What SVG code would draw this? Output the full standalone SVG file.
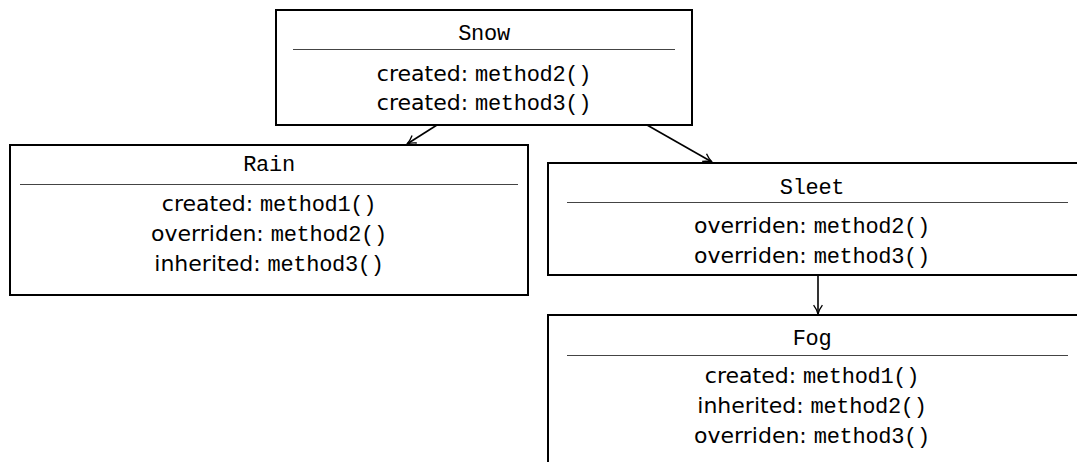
<svg xmlns="http://www.w3.org/2000/svg" width="1077" height="462" viewBox="0 0 1077 462">
<defs>
<style>
.box{fill:#fff;stroke:#000;stroke-width:2}
.sep{stroke:#444;stroke-width:1}
.t{font-family:"DejaVu Sans","Liberation Sans",sans-serif;font-size:22px;fill:#000;text-anchor:middle}
.m{font-family:"Liberation Mono","DejaVu Sans Mono",monospace;font-size:22px;letter-spacing:-0.3px}
.edge{stroke:#000;stroke-width:1.6;fill:none;marker-end:url(#ah)}
</style>
<marker id="ah" viewBox="0 0 10 10" refX="9" refY="5" markerWidth="11" markerHeight="11" orient="auto" markerUnits="userSpaceOnUse">
<path d="M1,1 Q5,4 9,5 Q5,6 1,9" fill="none" stroke="#000" stroke-width="1.2"/>
</marker>
</defs>
<rect width="1077" height="462" fill="#fff"/>
<g id="edges">
<line class="edge" x1="437" y1="125" x2="407" y2="144"/>
<line class="edge" x1="647" y1="125" x2="712" y2="162"/>
<line class="edge" x1="818" y1="275" x2="818" y2="314"/>
</g>
<g id="Snow">
<rect class="box" x="276" y="10" width="416" height="115"/>
<line class="sep" x1="293" y1="49.5" x2="675" y2="49.5"/>
<text class="t" x="484" y="40"><tspan class="m">Snow</tspan></text>
<text class="t" x="484" y="81">created: <tspan class="m">method2()</tspan></text>
<text class="t" x="484" y="110">created: <tspan class="m">method3()</tspan></text>
</g>
<g id="Rain">
<rect class="box" x="10" y="145" width="518" height="150"/>
<line class="sep" x1="20" y1="184.5" x2="518" y2="184.5"/>
<text class="t" x="269" y="171"><tspan class="m">Rain</tspan></text>
<text class="t" x="269" y="211">created: <tspan class="m">method1()</tspan></text>
<text class="t" x="269" y="241">overriden: <tspan class="m">method2()</tspan></text>
<text class="t" x="269" y="271">inherited: <tspan class="m">method3()</tspan></text>
</g>
<g id="Sleet">
<rect class="box" x="548" y="163" width="540" height="112"/>
<line class="sep" x1="567" y1="202.5" x2="1068" y2="202.5"/>
<text class="t" x="812" y="194"><tspan class="m">Sleet</tspan></text>
<text class="t" x="812" y="233">overriden: <tspan class="m">method2()</tspan></text>
<text class="t" x="812" y="263">overriden: <tspan class="m">method3()</tspan></text>
</g>
<g id="Fog">
<rect class="box" x="548" y="315" width="540" height="160"/>
<line class="sep" x1="567" y1="355.5" x2="1068" y2="355.5"/>
<text class="t" x="812" y="345"><tspan class="m">Fog</tspan></text>
<text class="t" x="812" y="383">created: <tspan class="m">method1()</tspan></text>
<text class="t" x="812" y="413">inherited: <tspan class="m">method2()</tspan></text>
<text class="t" x="812" y="443">overriden: <tspan class="m">method3()</tspan></text>
</g>
</svg>
